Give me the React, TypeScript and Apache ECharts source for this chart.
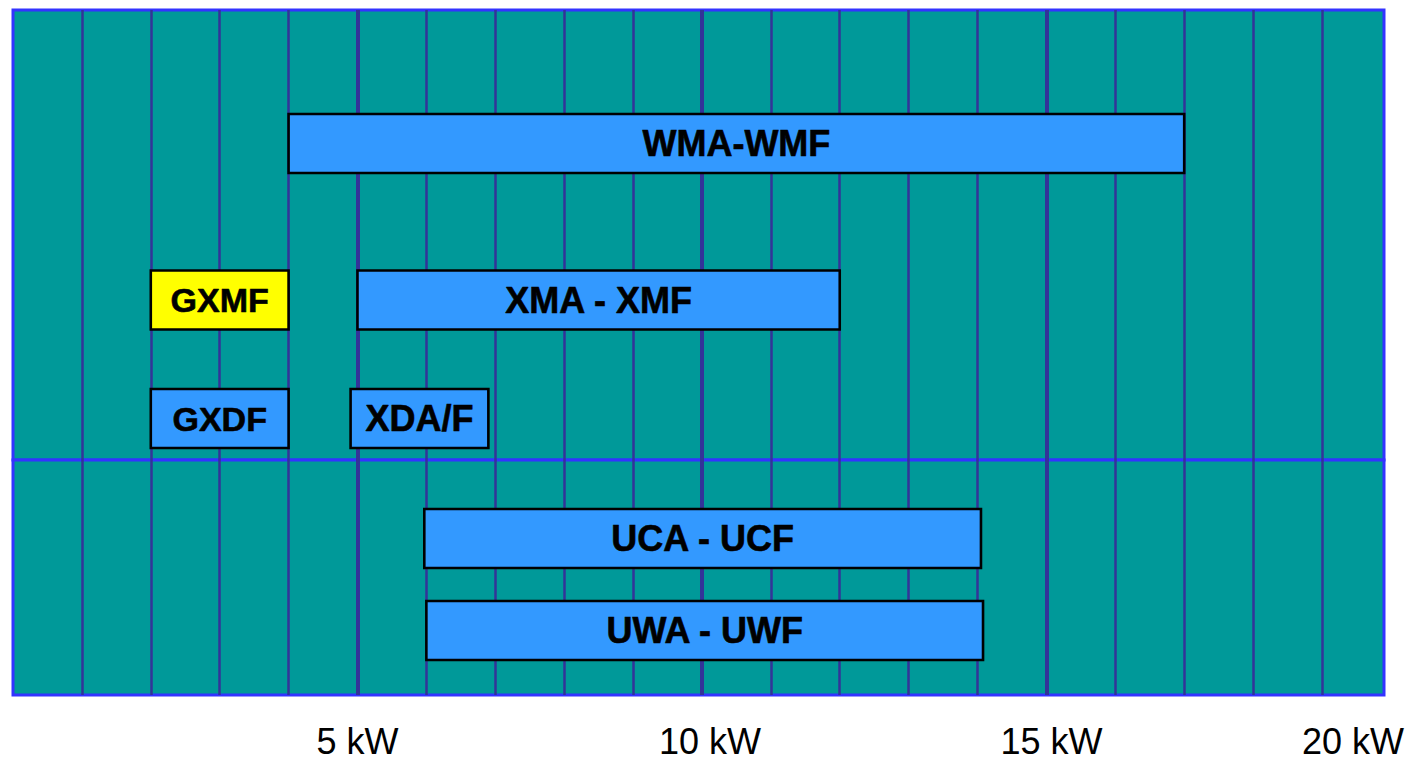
import React, { useEffect, useRef } from 'react';
import * as echarts from 'echarts';

// ---- data (kW ranges and row positions) ----
const upperNames = ['WMA-WMF', 'GXMF', 'XMA - XMF', 'GXDF', 'XDA/F'];
const upperStart = [4, 2, 5, 2, 4.9];
const upperEnd = [17, 4, 12, 4, 6.9];
const upperRow = [13.35, 29.0, 29.0, 40.85, 40.85];

const lowerNames = ['UCA - UCF', 'UWA - UWF'];
const lowerStart = [5.97, 6.0];
const lowerEnd = [14.05, 14.08];
const lowerRow = [7.85, 17.05];

const highlighted = ['GXMF'];

const tickValues = [5, 10, 15, 20];
const tickLabels = ['5 kW', '10 kW', '15 kW', '20 kW'];
const emphasisTicks = [5, 10, 15];

const X_MAX = 19.9;
const BAR_H = 5.9;
const FONT = '"Liberation Sans", Arial, Helvetica, sans-serif';

function makeRender(names: string[]) {
  return (params: any, api: any) => {
    const s = api.coord([api.value(0), api.value(2)]);
    const e = api.coord([api.value(1), api.value(2)]);
    const h = Math.abs(api.size([0, BAR_H])[1]);
    const name = names[params.dataIndex];
    const size = name.startsWith('GX') ? 34 : 36;
    return {
      type: 'rect',
      shape: { x: s[0], y: s[1] - h / 2, width: e[0] - s[0], height: h },
      style: {
        fill: highlighted.includes(name) ? '#ffff00' : '#3399ff',
        stroke: '#000000',
        lineWidth: 2.6,
      },
      textContent: {
        style: {
          text: name,
          fill: '#000000',
          font: `bold ${size}px ${FONT}`,
          stroke: '#000000',
          lineWidth: 0.6,
        },
      },
      textConfig: { position: 'inside' },
    };
  };
}

export default function App() {
  const ref = useRef<HTMLDivElement>(null);

  useEffect(() => {
    if (!ref.current) return;
    const chart = echarts.init(ref.current, null, { renderer: 'svg' });

    const gridStyle = {
      show: true,
      backgroundColor: '#009999',
      borderColor: '#3333ff',
      borderWidth: 3,
      containLabel: false,
      outerBoundsMode: 'none',
    };

    const xAxisBase = {
      type: 'value',
      min: 0,
      max: X_MAX,
      interval: 1,
      axisLine: { show: false },
      axisTick: { show: false },
      splitLine: {
        show: true,
        showMinLine: false,
        showMaxLine: false,
        lineStyle: { color: '#333399', width: 2.5 },
      },
    };

    const labelFormatter = (v: number) => {
      const i = tickValues.findIndex((t) => Math.abs(t - v) < 0.15);
      if (i < 0) return '';
      return `{t${i}|${tickLabels[i]}}`;
    };
    const richBase = { fontSize: 36, fontFamily: FONT, color: '#000000' };

    const thickLines = (xi: number) => ({
      type: 'line',
      xAxisIndex: xi,
      yAxisIndex: xi,
      data: [],
      z: 1,
      silent: true,
      markLine: {
        z: 1,
        silent: true,
        symbol: ['none', 'none'],
        label: { show: false },
        lineStyle: { color: '#333399', width: 4, type: 'solid' },
        data: emphasisTicks.map((t) => ({ xAxis: t })),
      },
    });

    const option: any = {
      animation: false,
      grid: [
        { ...gridStyle, left: 13, top: 10, width: 1371, height: 450 },
        { ...gridStyle, left: 13, top: 460, width: 1371, height: 235 },
      ],
      xAxis: [
        { ...xAxisBase, gridIndex: 0, axisLabel: { show: false } },
        {
          ...xAxisBase,
          gridIndex: 1,
          axisLabel: {
            show: true,
            showMinLabel: true,
            showMaxLabel: true,
            margin: 28,
            formatter: labelFormatter,
            rich: {
              t0: { ...richBase, padding: [0, 0, 0, 0] },
              t1: { ...richBase, padding: [0, 0, 0, 16] },
              t2: { ...richBase, padding: [0, 0, 0, 10] },
              t3: { ...richBase, padding: [0, 62, 0, 0] },
            },
          },
        },
      ],
      yAxis: [
        { type: 'value', gridIndex: 0, min: 0, max: 45, inverse: true, show: false, splitLine: { show: false } },
        { type: 'value', gridIndex: 1, min: 0, max: 23.5, inverse: true, show: false, splitLine: { show: false } },
      ],
      series: [
        thickLines(0),
        thickLines(1),
        {
          type: 'custom',
          xAxisIndex: 0,
          yAxisIndex: 0,
          z: 5,
          renderItem: makeRender(upperNames),
          encode: { x: [0, 1], y: 2 },
          data: upperNames.map((n, i) => ({ name: n, value: [upperStart[i], upperEnd[i], upperRow[i]] })),
        },
        {
          type: 'custom',
          xAxisIndex: 1,
          yAxisIndex: 1,
          z: 5,
          renderItem: makeRender(lowerNames),
          encode: { x: [0, 1], y: 2 },
          data: lowerNames.map((n, i) => ({ name: n, value: [lowerStart[i], lowerEnd[i], lowerRow[i]] })),
        },
      ],
    };

    chart.setOption(option);
    return () => chart.dispose();
  }, []);

  return (
    <div
      ref={ref}
      style={{ position: 'absolute', left: 0, top: 0, width: 1405, height: 762, background: '#ffffff' }}
    />
  );
}
